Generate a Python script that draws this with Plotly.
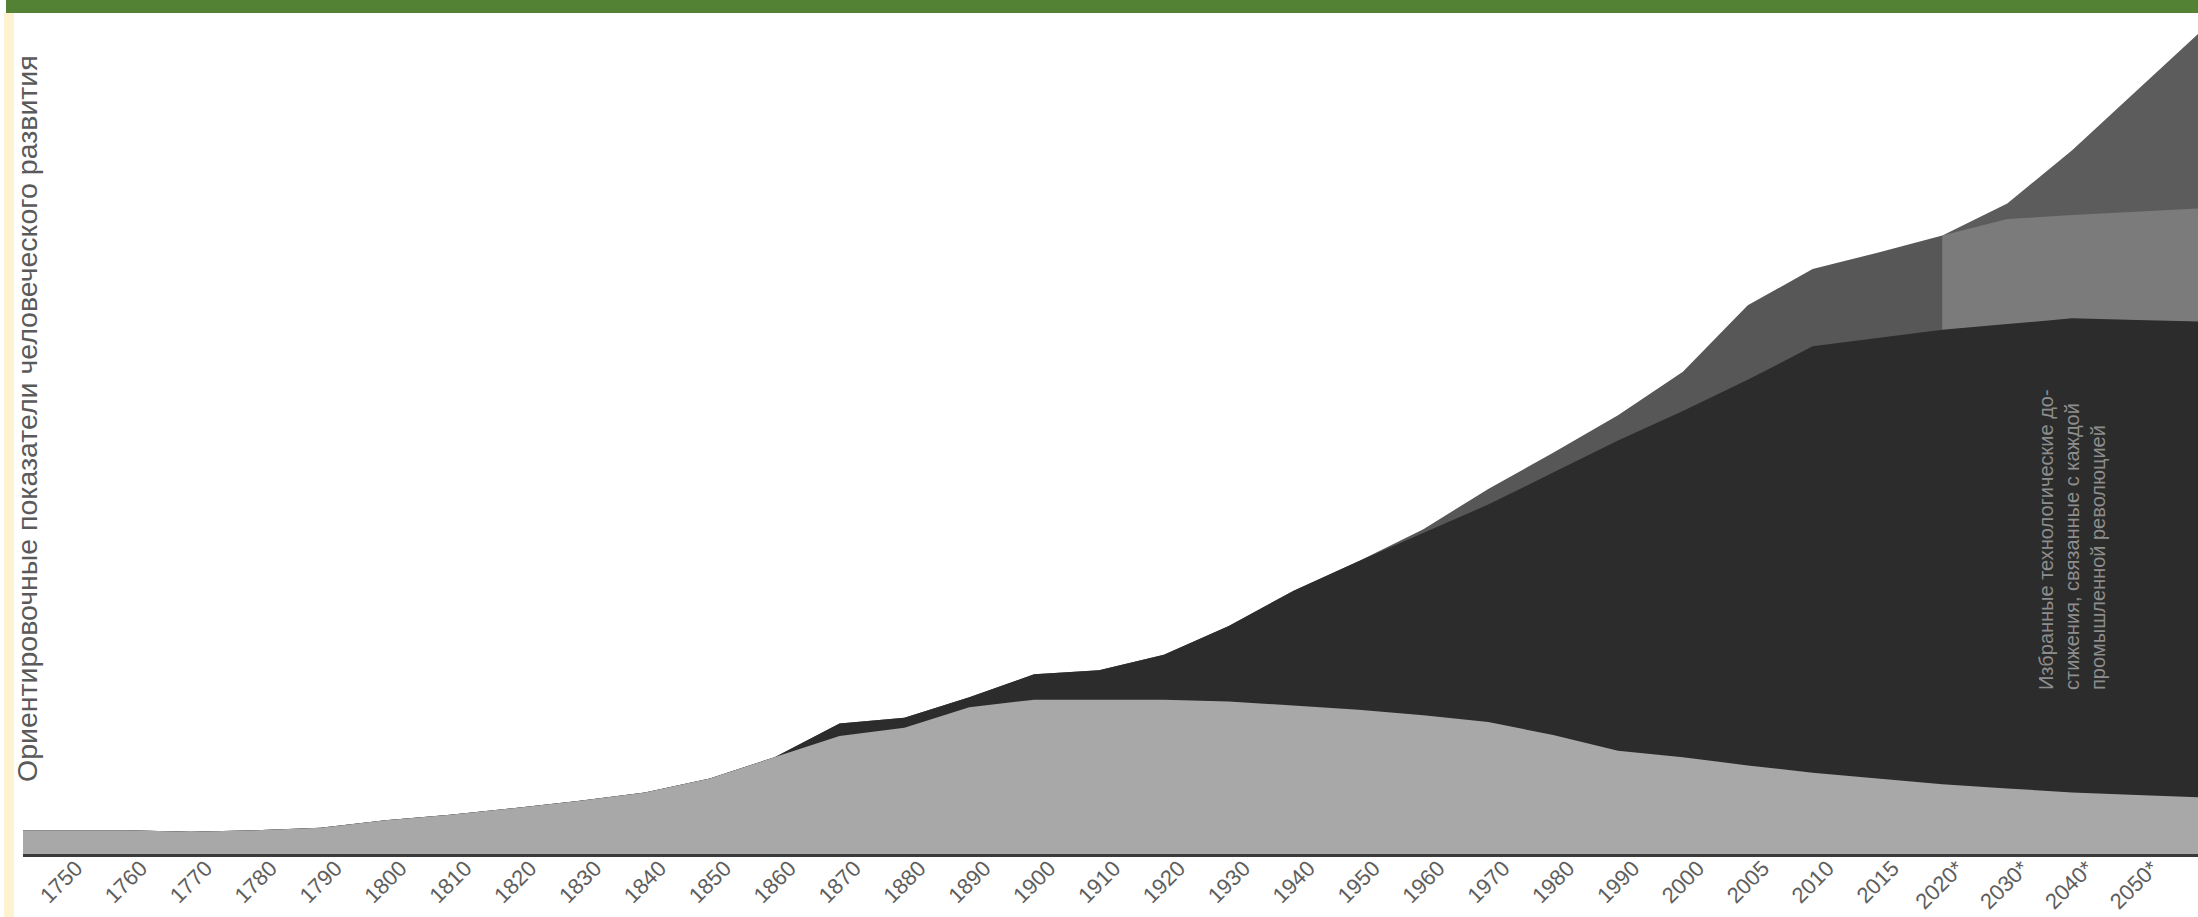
import numpy as np
import plotly.graph_objects as go

# ---------------- data ----------------
years = ["1750", "1760", "1770", "1780", "1790", "1800", "1810", "1820", "1830", "1840",
         "1850", "1860", "1870", "1880", "1890", "1900", "1910", "1920", "1930", "1940",
         "1950", "1960", "1970", "1980", "1990", "2000", "2005", "2010", "2015",
         "2020*", "2030*", "2040*", "2050*"]

# band thicknesses (relative human-development index units)
agrarian = [2.9, 2.9, 2.7, 2.9, 3.2, 4.1, 4.8, 5.6, 6.5, 7.5,
            9.2, 11.8, 14.4, 15.4, 17.9, 18.8, 18.8, 18.8, 18.6, 18.1,
            17.6, 16.9, 16.1, 14.5, 12.6, 11.8, 10.8, 9.9, 9.2,
            8.5, 8.0, 7.5, 7.2]
industrial = [0, 0, 0, 0, 0, 0, 0, 0, 0, 0,
              0, 0, 1.5, 1.2, 1.2, 3.1, 3.6, 5.5, 9.2, 14.0,
              18.1, 22.2, 26.5, 32.0, 37.8, 42.2, 47.0, 52.0, 53.7,
              55.4, 56.6, 57.8, 57.9]
postindustrial = [0, 0, 0, 0, 0, 0, 0, 0, 0, 0,
                  0, 0, 0, 0, 0, 0, 0, 0, 0, 0,
                  0, 0.5, 1.9, 2.4, 3.1, 4.8, 9.1, 9.4, 10.4,
                  11.5, 12.8, 12.6, 13.2]
# additional forecast band (from 2020* on)
forecast_extra = [0, 0, 0, 0, 0, 0, 0, 0, 0, 0,
                  0, 0, 0, 0, 0, 0, 0, 0, 0, 0,
                  0, 0, 0, 0, 0, 0, 0, 0, 0,
                  0, 1.9, 7.9, 14.8]
forecast_start = "2020*"

y_title = "Ориентировочные показатели человеческого развития"
note_text = "Избранные технологические до-<br>стижения, связанные с каждой<br>промышленной революцией"

# ---------------- layout geometry ----------------
W, H = 2198, 917
ML, MR, MT, MB = 23, 0, 14, 63
PW, PH = W - ML - MR, H - MT - MB
X_LO, X_HI = -0.586, 32.94
Y_MAX = 102.4


def px_x(px):
    return (px - ML) / PW


def px_y(py):
    return (H - MB - py) / PH


n = len(years)
xi = np.arange(n, dtype=float)
c1 = np.array(agrarian)
c2 = c1 + np.array(industrial)
c3 = c2 + np.array(postindustrial)
c4 = c3 + np.array(forecast_extra)
k = years.index(forecast_start)


def extend(xs, ys, left=True, right=True):
    """Carry the first/last drawn segment on to the frame edges."""
    xs = list(xs)
    ys = list(ys)
    if left:
        s = (ys[1] - ys[0]) / (xs[1] - xs[0])
        ys = [ys[0] + s * (X_LO - xs[0])] + ys
        xs = [X_LO] + xs
    if right:
        s = (ys[-1] - ys[-2]) / (xs[-1] - xs[-2])
        ys = ys + [ys[-1] + s * (X_HI - xs[-1])]
        xs = xs + [X_HI]
    return np.array(xs), np.array(ys)


def band(xs, top, color, name):
    xx = np.concatenate([xs, xs[::-1]])
    yy = np.concatenate([top, np.zeros(len(xs))])
    return go.Scatter(x=xx, y=yy, fill="toself", fillcolor=color, mode="lines",
                      line=dict(width=0, color=color), hoverinfo="skip",
                      name=name, showlegend=False)


fig = go.Figure()

# forecast part (from 2020*)
xf, t4 = extend(xi[k:], c4[k:], left=False)
_, t3f = extend(xi[k:], c3[k:], left=False)
fig.add_trace(band(xf, t4, "#5c5c5c", "forecast extra"))
fig.add_trace(band(xf, t3f, "#7b7b7b", "post-industrial forecast"))
# historical post-industrial
xh, t3h = extend(xi[:k + 1], c3[:k + 1], right=False)
fig.add_trace(band(xh, t3h, "#575757", "post-industrial"))
# industrial + agrarian full length
xa, t2 = extend(xi, c2)
fig.add_trace(band(xa, t2, "#2c2c2c", "industrial"))
_, t1 = extend(xi, c1)
fig.add_trace(band(xa, t1, "#a8a8a8", "agrarian"))

fig.update_layout(
    width=W, height=H,
    margin=dict(l=ML, r=MR, t=MT, b=MB, autoexpand=False),
    paper_bgcolor="white", plot_bgcolor="white",
    showlegend=False,
    font=dict(family="Liberation Sans, Arial, sans-serif", color="#5a5a5a"),
    xaxis=dict(range=[X_LO, X_HI], tickmode="array", tickvals=list(xi), ticktext=years,
               tickangle=-45, ticks="", showgrid=False, zeroline=False,
               automargin=False,
               showline=True, linecolor="#3a3a3a", linewidth=2.5,
               tickfont=dict(size=22, color="#5e5e5e"),
               ticklabelshift=15, ticklabelstandoff=-10),
    yaxis=dict(range=[0, Y_MAX], visible=False, showgrid=False, zeroline=False,
               automargin=False),
)

# decorations: green top bar and cream left strip
fig.add_shape(type="rect", xref="paper", yref="paper",
              x0=px_x(6), x1=px_x(W), y0=px_y(0), y1=px_y(13),
              fillcolor="#548235", line=dict(width=0), layer="above")
fig.add_shape(type="rect", xref="paper", yref="paper",
              x0=px_x(4), x1=px_x(14), y0=px_y(13), y1=px_y(H),
              fillcolor="#fff2cf", line=dict(width=0), layer="above")

# y axis title
fig.add_annotation(text=y_title, xref="paper", yref="paper",
                   x=px_x(27), y=px_y(419), xanchor="center", yanchor="middle",
                   textangle=-90, showarrow=False,
                   font=dict(size=28.5, color="#5a5a5a"))

# note inside the dark band
fig.add_annotation(text=note_text, xref="paper", yref="paper",
                   x=px_x(2072), y=px_y(540), xanchor="center", yanchor="middle",
                   textangle=-90, showarrow=False, align="left",
                   font=dict(size=20, color="#8e8e8e"))

fig.write_html("out.html",
               config={"displayModeBar": False},
               post_script="document.body.style.margin='0px';"
                           "document.body.style.overflow='hidden';")
